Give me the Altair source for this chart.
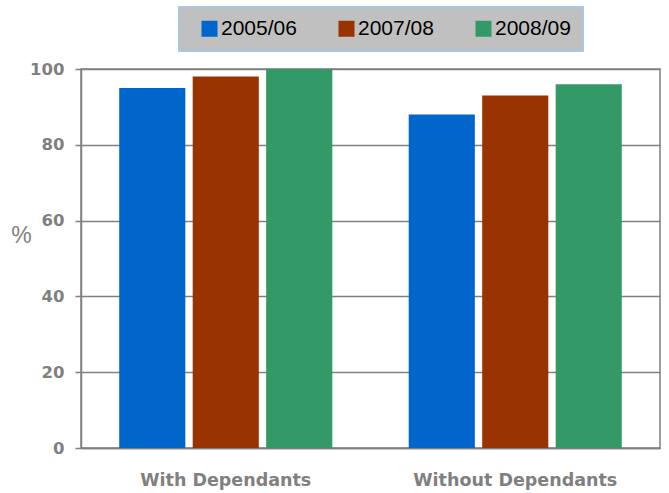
import altair as alt
import pandas as pd

categories = ["With Dependants", "Without Dependants"]
series = ["2005/06", "2007/08", "2008/09"]
values_2005 = [95, 88]
values_2007 = [98, 93]
values_2008 = [100, 96]
colors = ["#0066cc", "#993300", "#339966"]

rows = []
for s, vals in zip(series, [values_2005, values_2007, values_2008]):
    for c, v in zip(categories, vals):
        rows.append({"category": c, "year": s, "value": v})
df = pd.DataFrame(rows)

AXFONT = "DejaVu Sans"
FONT = "Liberation Sans"

bars = alt.Chart(df).mark_bar().encode(
    x=alt.X("category:N", sort=categories,
            scale=alt.Scale(paddingInner=0.264, paddingOuter=0.132),
            axis=alt.Axis(title=None, labelAngle=0, ticks=False, labelPadding=23,
                          labelLimit=400,
                          labelFont=AXFONT, labelFontSize=17.5, labelFontWeight="bold",
                          labelColor="#808080", domainColor="#808080", domainWidth=1.5)),
    xOffset=alt.XOffset("year:N", sort=series,
                        scale=alt.Scale(paddingInner=0.1, paddingOuter=0)),
    y=alt.Y("value:Q", scale=alt.Scale(domain=[0, 100], nice=False),
            axis=alt.Axis(values=[0, 20, 40, 60, 80, 100], title="%",
                          titleAngle=0, titleFont=FONT, titleFontSize=23,
                          titleFontWeight="normal", titleColor="#808080",
                          titleX=-60, titleY=166, titleAlign="center", titleBaseline="middle",
                          labelFont=AXFONT, labelFontSize=16.5, labelFontWeight="bold",
                          labelColor="#808080", labelPadding=11, tickSize=6,
                          tickColor="#808080", tickWidth=1.5,
                          domainColor="#808080", domainWidth=1.5,
                          gridColor="#808080", gridWidth=1.5)),
    color=alt.Color("year:N", sort=series,
                    scale=alt.Scale(domain=series, range=colors),
                    legend=alt.Legend(title=None, orient="none", direction="horizontal",
                                      legendX=97, legendY=-63,
                                      fillColor="#c0c0c0", strokeColor="#99ccff",
                                      padding=12, symbolOffset=9,
                                      symbolType="square", symbolSize=256,
                                      symbolStrokeWidth=0, symbolOpacity=1,
                                      labelFont=FONT, labelFontSize=21, labelColor="#000000",
                                      labelOffset=1, columnPadding=30)),
).properties(width=579, height=379)

chart = bars.configure_view(stroke="#808080", strokeWidth=1.5).properties(
    autosize=alt.AutoSizeParams(type="none"),
    padding={"left": 81, "top": 69, "right": 9, "bottom": 45},
)

chart.save("out.html", embed_options={"renderer": "svg", "actions": False})
